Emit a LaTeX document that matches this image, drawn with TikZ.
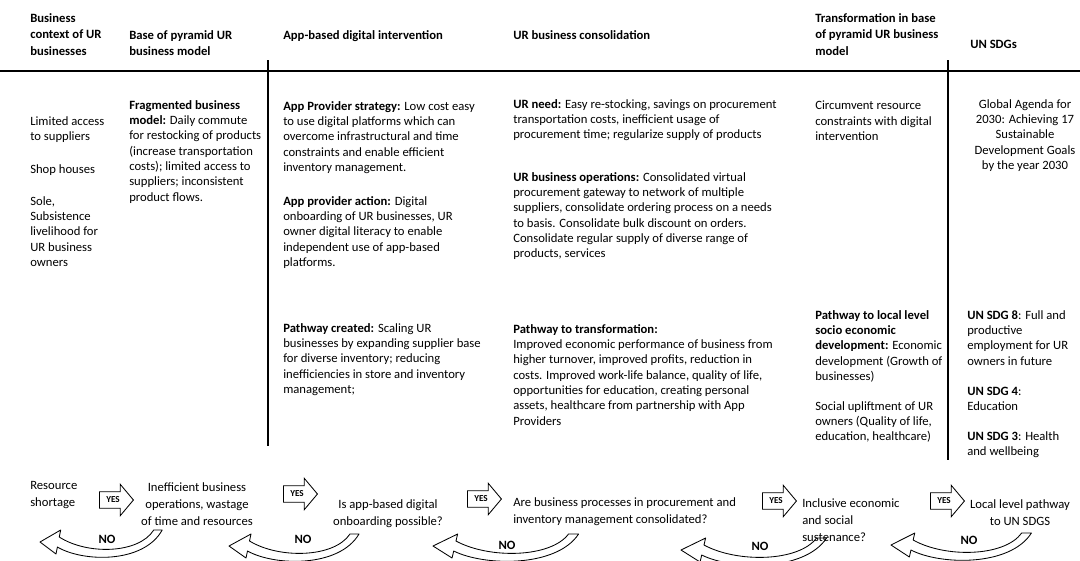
\documentclass[tikz,border=0pt]{standalone}
\usepackage{fontspec}
\setmainfont{Carlito}
\usetikzlibrary{shapes.arrows}

\begin{document}
\begin{tikzpicture}[
  x=0.025cm, y=-0.025cm,
  every node/.style={font=\fontsize{9}{10.9}\selectfont, inner sep=0pt, align=left},
  colhead/.style={anchor=north west, font=\fontsize{9}{11.7}\selectfont\bfseries},
  txt/.style={anchor=north west},
  flow/.style={anchor=north, align=center, font=\fontsize{9}{12.2}\selectfont},
  nolabel/.style={font=\fontsize{9}{11}\selectfont\bfseries},
  yesarrow/.style={single arrow, draw, line width=0.6pt, anchor=tail,
    font=\fontsize{6.5}{7}\selectfont\bfseries, inner xsep=1.5pt, inner ysep=3.4pt,
    single arrow head extend=5.3pt, single arrow tip angle=100, minimum height=0.85cm},
  divider/.style={line width=1.3pt},
  noloop/.pic={
    \draw[line width=0.6pt, line join=round]
      (18.5,5) .. controls (45,20) and (110,22) .. (130,-12) -- (121,-12)
      .. controls (105,12) and (50,13) .. (20.5,-5) -- (22,-12) -- (0,0)
      -- (17,12) -- cycle;
  }
]
\useasboundingbox (0,0) rectangle (1080,560);

% --- Column headings ---
\node[colhead] (hctx)   at (30,13)  {Business\\context of UR\\businesses};
\node[colhead] (hbase)  at (129,30) {Base of pyramid UR\\business model};
\node[colhead] (happ)   at (283,30) {App-based digital intervention};
\node[colhead] (hcons)  at (513,30) {UR business consolidation};
\node[colhead] (htrans) at (815,13) {Transformation in base\\of pyramid UR business\\model};
\node[colhead] (hsdg)   at (970,40) {UN SDGs};

% --- Rules ---
\draw[divider] (0,71) -- (1080,71);
\draw[divider] (268,60) -- (268,446);
\draw[divider] (948,60) -- (948,460);

% --- Business context ---
\node[txt] (access) at (30,116) {Limited access\\to suppliers};
\node[txt] (shop)   at (30,164) {Shop houses};
\node[txt] (sole)   at (30,196) {Sole,\\Subsistence\\livelihood for\\UR business\\owners};

% --- Base of pyramid model ---
\node[txt] (frag) at (129,100) {\textbf{Fragmented business}\\\textbf{model:} Daily commute\\for restocking of products\\(increase transportation\\costs); limited access to\\suppliers; inconsistent\\product flows.};

% --- Digital intervention ---
\node[txt] (strategy) at (283,101) {\textbf{App Provider strategy:} Low cost easy\\to use digital platforms which can\\overcome infrastructural and time\\constraints and enable efficient\\inventory management.};
\node[txt] (action)   at (283,196) {\textbf{App provider action:} Digital\\onboarding of UR businesses, UR\\owner digital literacy to enable\\independent use of app-based\\platforms.};
\node[txt] (created)  at (283,323) {\textbf{Pathway created:} Scaling UR\\businesses by expanding supplier base\\for diverse inventory; reducing\\inefficiencies in store and inventory\\management;};

% --- Consolidation ---
\node[txt] (need) at (513,99) {\textbf{UR need:} Easy re-stocking, savings on procurement\\transportation costs, inefficient usage of\\procurement time; regularize supply of products};
\node[txt] (ops)  at (513,172) {\textbf{UR business operations:} Consolidated virtual\\procurement gateway to network of multiple\\suppliers, consolidate ordering process on a needs\\to basis. Consolidate bulk discount on orders.\\Consolidate regular supply of diverse range of\\products, services};
\node[txt] (path) at (513,324) {\textbf{Pathway to transformation:}\\Improved economic performance of business from\\higher turnover, improved profits, reduction in\\costs. Improved work-life balance, quality of life,\\opportunities for education, creating personal\\assets, healthcare from partnership with App\\Providers};

% --- Transformation ---
\node[txt] (circ)   at (815,101) {Circumvent resource\\constraints with digital\\intervention};
\node[txt] (local)  at (815,310) {\textbf{Pathway to local level}\\\textbf{socio economic}\\\textbf{development:} Economic\\development (Growth of\\businesses)};
\node[txt] (social) at (815,401) {Social upliftment of UR\\owners (Quality of life,\\education, healthcare)};

% --- SDGs ---
\node[anchor=north, align=center] (agenda) at (1025,99) {Global Agenda for\\2030: Achieving 17\\Sustainable\\Development Goals\\by the year 2030};
\node[txt] (sdg8) at (967,310) {\textbf{UN SDG 8}: Full and\\productive\\employment for UR\\owners in future};
\node[txt] (sdg4) at (967,387) {\textbf{UN SDG 4}:\\Education};
\node[txt] (sdg3) at (967,431) {\textbf{UN SDG 3}: Health\\and wellbeing};

% --- Decision flow ---
\node[flow, anchor=north west, align=left] (q0) at (30,481)  {Resource\\shortage};
\node[flow] (q1) at (197,482) {Inefficient business\\operations, wastage\\of time and resources};
\node[flow] (q2) at (388,499) {Is app-based digital\\onboarding possible?};
\node[flow, anchor=north west, align=left] (q3) at (513,497) {Are business processes in procurement and\\inventory management consolidated?};
\node[flow, anchor=north west, align=left] (q4) at (802,498) {Inclusive economic\\and social\\sustenance?};
\node[flow] (q5) at (1020,499) {Local level pathway\\to UN SDGS};

\node[yesarrow] (yes1) at (99,500)  {YES};
\node[yesarrow] (yes2) at (283,494) {YES};
\node[yesarrow] (yes3) at (467,499) {YES};
\node[yesarrow] (yes4) at (762,501) {YES};
\node[yesarrow] (yes5) at (930,501) {YES};

% back loops
\pic[xscale=0.94] at (40,542)  {noloop};
\pic[xscale=1.0]  at (229,546) {noloop};
\pic[xscale=1.12] at (433,546) {noloop};
\pic[xscale=1.12] at (681,550) {noloop};
\pic[xscale=1.08] at (891,545) {noloop};

\node[nolabel] (no1) at (107,539) {NO};
\node[nolabel] (no2) at (303,539) {NO};
\node[nolabel] (no3) at (507,545) {NO};
\node[nolabel] (no4) at (760,546) {NO};
\node[nolabel] (no5) at (969,540) {NO};

\end{tikzpicture}
\end{document}
